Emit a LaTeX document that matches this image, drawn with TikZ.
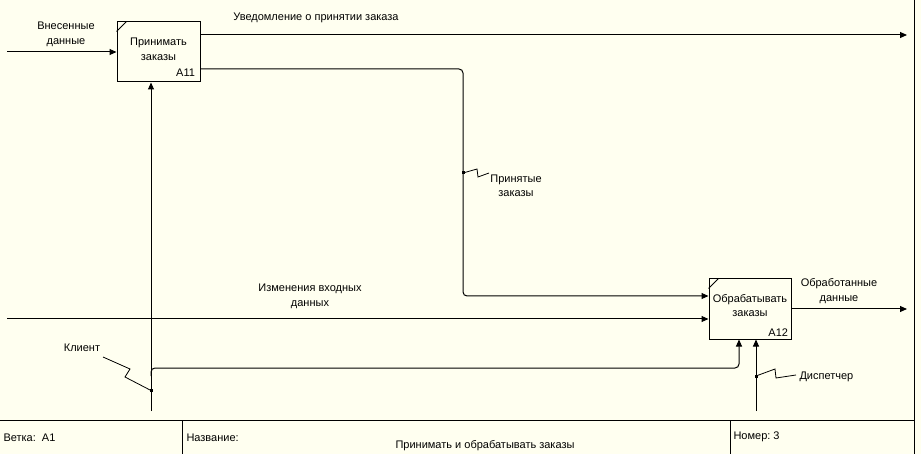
\documentclass[tikz,border=0pt]{standalone}
\usepackage{fontspec}
\setmainfont{Liberation Sans}
\usetikzlibrary{arrows.meta}
\definecolor{bgc}{RGB}{255,255,240}
\begin{document}
\begin{tikzpicture}[x=1pt,y=-1pt,
  font=\fontsize{11}{14.5}\selectfont,
  line width=1pt,
  abox/.style={draw,line width=1pt,fill=bgc,minimum width=#1,minimum height=60pt,inner sep=0pt},
  arr/.style={-{Triangle[length=7pt,width=6pt]}},
  txt/.style={inner sep=0pt,align=center},
  lbl/.style={inner sep=0pt,anchor=west},
  squig/.style={line width=0.8pt},
  dotc/.style={fill,minimum size=3pt,inner sep=0pt,rectangle}
]
\fill[bgc] (0,0) rectangle (921,454);
\useasboundingbox (0,0) rectangle (921,454);

% boxes
\node[abox=83pt] (A11) at (158.5,52) {};
\node[abox=82pt] (A12) at (750,309) {};
\node[txt] (t11) at (158.5,49.5) {Принимать\\заказы};
\node[txt] (t12) at (750,305.5) {Обрабатывать\\заказы};
\node[inner sep=0pt,anchor=south east] (n11) at ([xshift=-5pt,yshift=5pt]A11.south east) {A11};
\node[inner sep=0pt,anchor=south east] (n12) at ([xshift=-3pt,yshift=2pt]A12.south east) {A12};
\draw ([yshift=-10pt]A11.north west) -- ([xshift=10pt]A11.north west);
\draw ([yshift=-10pt]A12.north west) -- ([xshift=10pt]A12.north west);

% coordinates
\coordinate (i1) at (7,52);
\coordinate (o1) at (907,35);
\coordinate (b1) at (463,69);
\coordinate (b2) at (463,296);
\coordinate (i2) at (7,319);
\coordinate (k0) at (151,411);
\coordinate (k1) at (151,368);
\coordinate (k2) at (739,368);
\coordinate (d0) at (756,411);
\coordinate (o2) at (907,309);

% arrows
\draw[arr] (i1) -- (A11.west |- i1);
\draw[arr] (A11.east |- o1) -- (o1);
\draw[arr,rounded corners=4pt] (A11.east |- b1) -- (b1) -- (b2) -- (A12.west |- b2);
\draw[arr] (i2) -- (A12.west |- i2);
\draw[arr] (k0) -- (k0 |- A11.south);
\draw[arr,rounded corners=4pt] (151,376) -- (k1) -- (k2) -- (k2 |- A12.south);
\draw[arr] (d0) -- (d0 |- A12.south);
\draw[arr] (A12.east) -- (o2);

% labels
\node[txt] (l1) at (66,34.5) {Внесенные\\данные};
\node[txt] (l2) at (316,18) {Уведомление о принятии заказа};
\node[txt] (l3) at (310,296.5) {Изменения входных\\данных};
\node[txt] (l4) at (516,186) {Принятые\\заказы};
\node[txt] (l5) at (839,291) {Обработанные\\данные};
\node[txt] (l6) at (82,348) {Клиент};
\node[lbl] (l7) at (799,377) {Диспетчер};

% squiggles
\coordinate (p1) at (463,173);
\node[dotc] at (p1) {};
\draw[squig] (p1) -- (477,169) -- (478,177) -- (489,173);
\coordinate (p2) at (151,390.5);
\node[dotc] at (p2) {};
\draw[squig] (p2) -- (125,377) -- (130,369) -- (103,357);
\coordinate (p3) at (756,376);
\node[dotc] at (p3) {};
\draw[squig] (p3) -- (775,369) -- (776,378) -- (796,375);

% frame
\draw (0,420) -- (914,420);
\draw (914,0) -- (914,454);
\draw (182,420) -- (182,454);
\draw (730,420) -- (730,454);
\node[lbl] (f1) at (3,438) {Ветка:\ \ A1};
\node[lbl] (f2) at (186,438) {Название:};
\node[txt] (f3) at (485,446) {Принимать и обрабатывать заказы};
\node[lbl] (f4) at (733,437) {Номер:\ 3};
\end{tikzpicture}
\end{document}
